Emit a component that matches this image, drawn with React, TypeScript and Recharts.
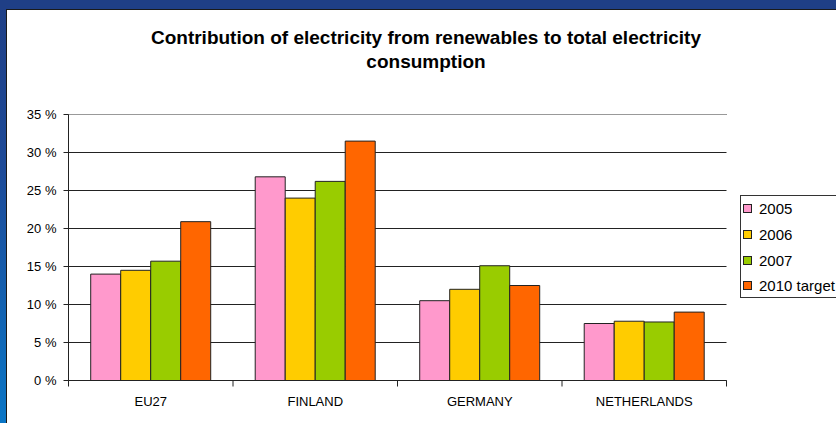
import { BarChart, Bar, XAxis, YAxis, CartesianGrid, ReferenceLine } from "recharts";

// Renewable electricity share of gross consumption, in percent
const regions = ["EU27", "FINLAND", "GERMANY", "NETHERLANDS"];
const share2005 = [14.0, 26.8, 10.5, 7.5];
const share2006 = [14.5, 24.0, 12.0, 7.8];
const share2007 = [15.7, 26.2, 15.1, 7.7];
const target2010 = [20.9, 31.5, 12.5, 9.0];
const percentTicks = [0, 5, 10, 15, 20, 25, 30, 35];

const series = [
  { key: "y2005", name: "2005", color: "#FF99CC" },
  { key: "y2006", name: "2006", color: "#FFCC00" },
  { key: "y2007", name: "2007", color: "#99CC00" },
  { key: "t2010", name: "2010 target", color: "#FF6600" },
];

const data = regions.map((region, i) => ({
  region,
  y2005: share2005[i],
  y2006: share2006[i],
  y2007: share2007[i],
  t2010: target2010[i],
}));

const W = 836;
const H = 423;
const margin = { top: 114.5, right: 109.5, bottom: 12.5, left: 8.5 };
const Y_AXIS_W = 60;
const X_AXIS_H = 30;
const PLOT_W = W - margin.left - margin.right - Y_AXIS_W;
const BAND = PLOT_W / regions.length;
const FONT = "'Liberation Sans', Arial, sans-serif";

// category labels centred, tick marks on the band edges
function RegionTick(props: any) {
  const { x, y, payload, index } = props;
  const half = BAND / 2;
  return (
    <g>
      <line x1={x - half} x2={x - half} y1={y} y2={y + 6} stroke="#222" />
      {index === regions.length - 1 && (
        <line x1={x + half} x2={x + half} y1={y} y2={y + 6} stroke="#222" />
      )}
      <text x={x} y={y} dy={25} textAnchor="middle" fontSize={13} fontFamily={FONT} fill="#000">
        {payload.value}
      </text>
    </g>
  );
}

export default function App() {
  return (
    <div
      style={{
        position: "absolute",
        left: 0,
        top: 0,
        width: W,
        height: H,
        overflow: "hidden",
        background: "linear-gradient(#1f3f86, #1d4a98 40%, #0a76c6)",
        fontFamily: FONT,
      }}
    >
      <div style={{ position: "absolute", left: 0, top: 0, width: W, height: 10, background: "#1f3f86" }} />
      <div
        style={{
          position: "absolute",
          left: 6,
          top: 9,
          width: W,
          height: H,
          background: "#fff",
          borderTop: "1px solid #1a1a1a",
          borderLeft: "1px solid #1a1a1a",
        }}
      />
      <div
        style={{
          position: "absolute",
          left: 76,
          width: 700,
          top: 26,
          textAlign: "center",
          fontWeight: "bold",
          fontSize: 19,
          lineHeight: "24px",
          color: "#000",
        }}
      >
        <div>Contribution of electricity from renewables to total electricity</div>
        <div>consumption</div>
      </div>

      <div style={{ position: "absolute", left: 0, top: 0 }}>
        <BarChart width={W} height={H} data={data} margin={margin} barCategoryGap="13.5%" barGap={0}>
          <CartesianGrid vertical={false} stroke="#222" />
          <ReferenceLine y={35} stroke="#999" />
          <XAxis
            dataKey="region"
            height={X_AXIS_H}
            axisLine={{ stroke: "#222" }}
            tickLine={false}
            tickSize={0}
            tickMargin={0}
            tick={<RegionTick />}
          />
          <YAxis
            width={Y_AXIS_W}
            domain={[0, 35]}
            ticks={percentTicks}
            interval={0}
            tickFormatter={(v: number) => `${v} %`}
            axisLine={{ stroke: "#222" }}
            tickLine={{ stroke: "#222" }}
            tickSize={5}
            tickMargin={7}
            tick={{ fontSize: 13, fontFamily: FONT, fill: "#000" }}
          />
          <YAxis
            yAxisId="frame"
            orientation="right"
            width={0}
            domain={[0, 35]}
            tick={false}
            tickLine={false}
            axisLine={{ stroke: "#999" }}
          />
          {series.map((s) => (
            <Bar
              key={s.key}
              dataKey={s.key}
              name={s.name}
              fill={s.color}
              stroke="#222"
              strokeWidth={1}
              isAnimationActive={false}
            />
          ))}
        </BarChart>
      </div>

      <div
        style={{
          position: "absolute",
          left: 740,
          top: 195,
          width: 120,
          height: 103,
          border: "1px solid #333",
          background: "#fff",
          boxSizing: "border-box",
          paddingTop: 0,
        }}
      >
        {series.map((s) => (
          <div
            key={s.key}
            style={{ display: "flex", alignItems: "center", height: 25.7, fontSize: 15, color: "#000" }}
          >
            <span
              style={{
                display: "inline-block",
                width: 7,
                height: 7,
                marginLeft: 2,
                marginRight: 7,
                background: s.color,
                border: "1px solid #222",
              }}
            />
            <span style={{ whiteSpace: "nowrap" }}>{s.name}</span>
          </div>
        ))}
      </div>
    </div>
  );
}
